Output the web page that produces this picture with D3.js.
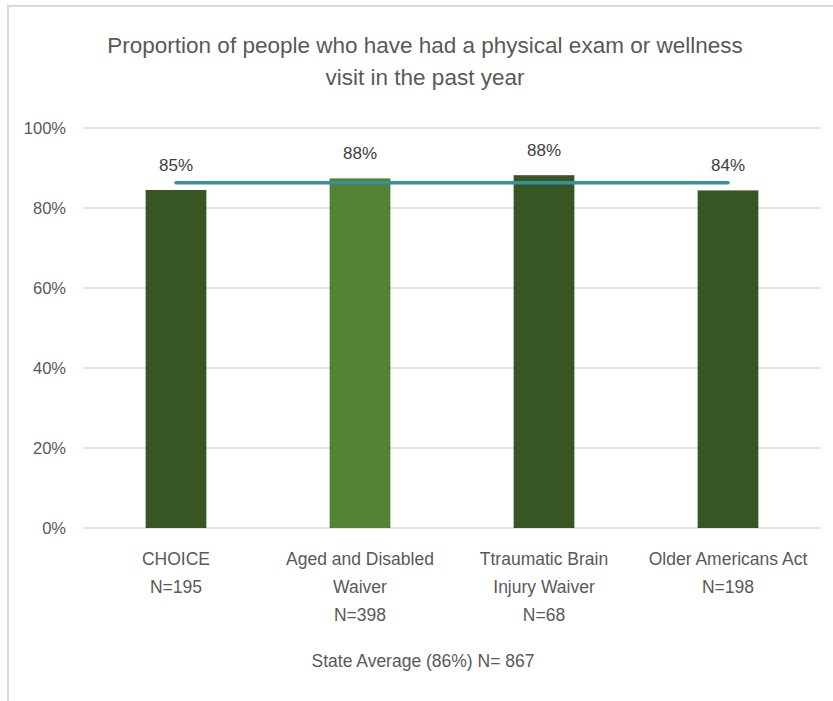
<!DOCTYPE html>
<html><head><meta charset="utf-8">
<script src="https://cdn.jsdelivr.net/npm/d3@7"></script>
<style>body{margin:0;background:#fff}svg{display:block}text{font-family:"Liberation Sans",Arial,sans-serif}</style>
</head><body>
<script>
const categories = [["CHOICE","N=195"],["Aged and Disabled","Waiver","N=398"],["Ttraumatic Brain","Injury Waiver","N=68"],["Older Americans Act","N=198"]];
const values = [84.5, 87.4, 88.2, 84.4];
const labels = ["85%","88%","88%","84%"];
const barColors = ["#375623","#548235","#375623","#375623"];
const stateAverage = 86.3;
const yTicks = [0,20,40,60,80,100];
const titleLines = ["Proportion of people who have had a physical exam or wellness","visit in the past year"];
const footnote = "State Average (86%) N= 867";

const W=833,H=701;
const svg=d3.select("body").append("svg").attr("width",W).attr("height",H);
// border
svg.append("path").attr("d","M8,701V6H833").attr("fill","none").attr("stroke","#d9d9d9").attr("stroke-width",2);

const x=d3.scaleBand().domain(d3.range(categories.length)).range([84,820]).paddingInner(0.67).paddingOuter(0.335);
const y=d3.scaleLinear().domain([0,100]).range([528,128]);

// gridlines
svg.append("g").selectAll("line").data(yTicks).join("line")
 .attr("x1",84).attr("x2",820).attr("y1",d=>y(d)).attr("y2",d=>y(d))
 .attr("stroke","#d9d9d9").attr("stroke-width",1.5);

// y axis labels
const yAxis=d3.axisLeft(y).tickValues(yTicks).tickFormat(d=>d+"%").tickSize(0).tickPadding(0);
const ga=svg.append("g").attr("transform","translate(66,0)").call(yAxis);
ga.select(".domain").remove();
ga.selectAll("text").attr("font-size",16.5).attr("fill","#595959").attr("font-family",null).attr("dy","0.35em");

// bars
svg.append("g").selectAll("rect").data(values).join("rect")
 .attr("x",(d,i)=>x(i)).attr("width",x.bandwidth())
 .attr("y",d=>y(d)).attr("height",d=>y(0)-y(d))
 .attr("fill",(d,i)=>barColors[i]);

// average line
svg.append("line").attr("x1",x(0)+x.bandwidth()/2).attr("x2",x(3)+x.bandwidth()/2)
 .attr("y1",y(stateAverage)).attr("y2",y(stateAverage))
 .attr("stroke","#3a8f99").attr("stroke-width",3.5).attr("stroke-linecap","round");

// value labels
svg.append("g").selectAll("text").data(values).join("text")
 .attr("x",(d,i)=>x(i)+x.bandwidth()/2).attr("y",d=>y(d)-19)
 .attr("text-anchor","middle").attr("font-size",17).attr("fill","#404040")
 .text((d,i)=>labels[i]);

// category labels
const cg=svg.append("g");
categories.forEach((lines,i)=>{
 const t=cg.append("text").attr("x",x(i)+x.bandwidth()/2).attr("y",565)
  .attr("text-anchor","middle").attr("font-size",17.5).attr("fill","#595959");
 lines.forEach((l,j)=>t.append("tspan").attr("x",x(i)+x.bandwidth()/2).attr("y",565+j*28).text(l));
});

// title
titleLines.forEach((l,j)=>svg.append("text").attr("x",425).attr("y",53+j*32)
 .attr("text-anchor","middle").attr("font-size",22.5).attr("fill","#595959").text(l));

// footnote
svg.append("text").attr("x",423).attr("y",667).attr("text-anchor","middle")
 .attr("font-size",17.5).attr("fill","#595959").text(footnote);
</script>
</body></html>
